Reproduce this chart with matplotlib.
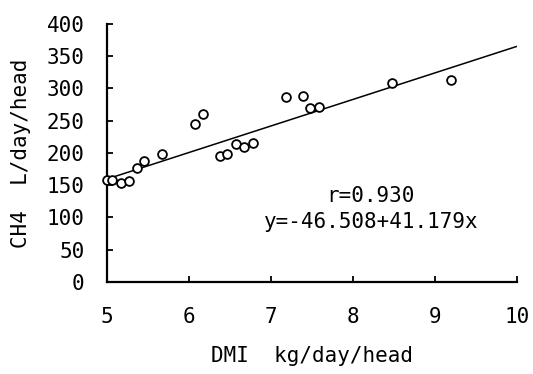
import numpy as np
import matplotlib.pyplot as plt

plt.rcParams['font.family'] = ['DejaVu Sans Mono', 'DejaVu Sans']

# data
dmi = [5.0, 5.07, 5.17, 5.27, 5.37, 5.45, 5.67, 6.08, 6.18, 6.38, 6.47,
       6.58, 6.68, 6.78, 7.18, 7.39, 7.48, 7.59, 8.48, 9.20]
ch4 = [158, 158, 154, 157, 177, 188, 198, 245, 260, 195, 198,
       214, 210, 216, 287, 289, 269, 272, 308, 313]
intercept = -46.508
slope = 41.179
r_value = 0.930

fig = plt.figure(figsize=(5.33, 3.74), dpi=100)
ax = fig.add_axes([0.2, 0.246, 0.77, 0.69])

xs = np.array([5, 10])
ax.plot(xs, intercept + slope * xs, color='black', lw=1.1, zorder=2)
ax.scatter(dmi, ch4, s=40, facecolors='white', edgecolors='black',
           linewidths=1.3, zorder=3, clip_on=False)

ax.set_xlim(5, 10)
ax.set_ylim(0, 400)
ax.set_xticks(range(5, 11))
ax.set_yticks(range(0, 401, 50))
ax.spines['top'].set_visible(False)
ax.spines['right'].set_visible(False)
ax.spines['left'].set_linewidth(1.6)
ax.spines['bottom'].set_linewidth(1.6)
ax.tick_params(direction='in', length=4, width=1.3, labelsize=15, colors='black')
ax.tick_params(axis='y', pad=16)
ax.tick_params(axis='x', pad=18)

ax.set_ylabel('CH4  L/day/head', fontsize=15, labelpad=11)
ax.set_xlabel('DMI  kg/day/head', fontsize=15, labelpad=14)

ax.text(8.22, 133, 'r=%.3f' % r_value, ha='center', va='center', fontsize=15)
ax.text(8.23, 93, 'y=%.3f+%.3fx' % (intercept, slope), ha='center',
        va='center', fontsize=15)

fig.savefig('out.png', dpi=100)
